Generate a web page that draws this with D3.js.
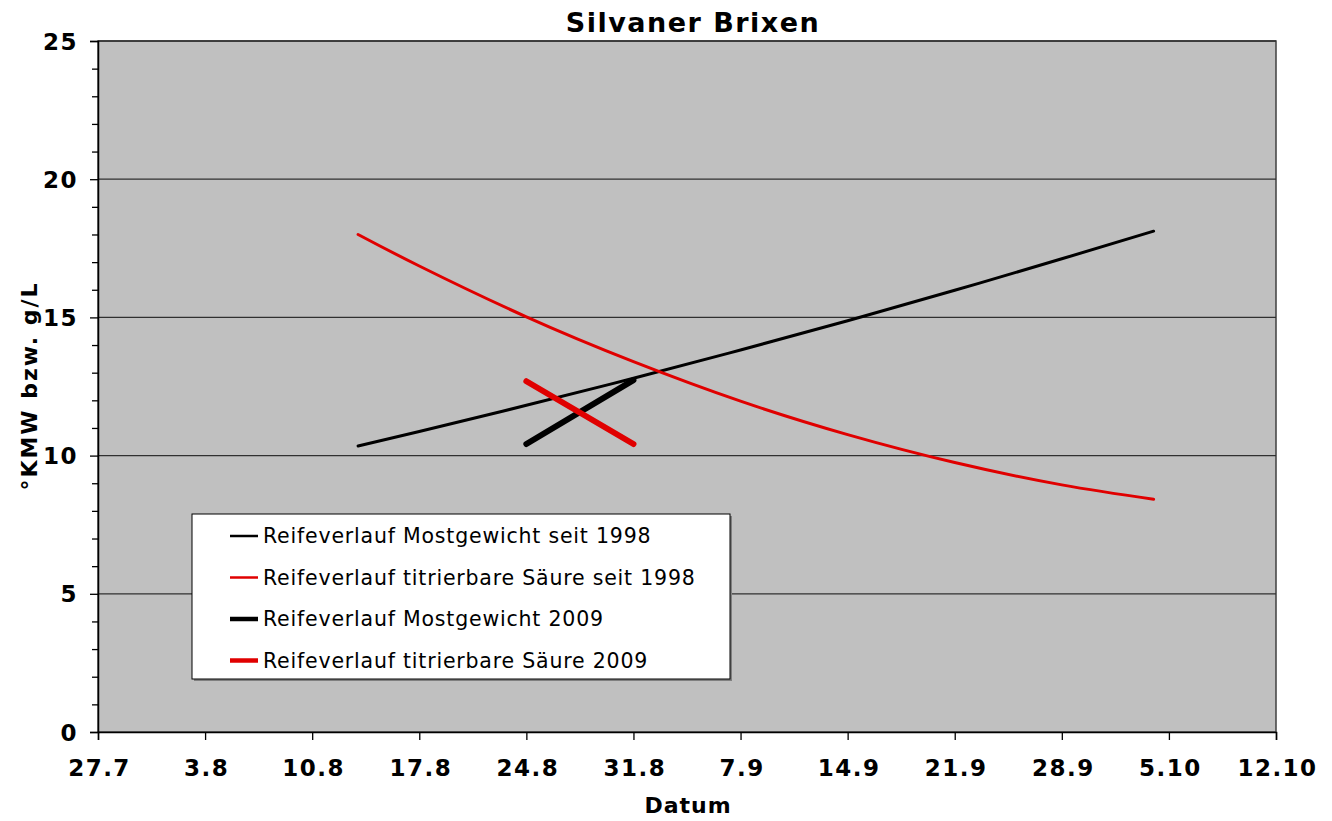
<!DOCTYPE html>
<html>
<head>
<meta charset="utf-8">
<script src="https://cdn.jsdelivr.net/npm/d3@7"></script>
<style>
  body { margin: 0; background: #fff; }
  text { font-family: "DejaVu Sans", Verdana, sans-serif; }
</style>
</head>
<body>
<div class="canvas"></div>
<script>
// tick labels on the date axis (day.month)
const xTickLabels = ['27.7', '3.8', '10.8', '17.8', '24.8', '31.8', '7.9', '14.9', '21.9', '28.9', '5.10', '12.10'];
const yTicks = [0, 5, 10, 15, 20, 25];

// long-term trend (seit 1998), read at weekly dates
const trendDates = ['13.8', '17.8', '24.8', '31.8', '7.9', '14.9', '21.9', '28.9', '4.10'];
const mostTrend = [10.35, 10.87, 11.82, 12.8, 13.82, 14.88, 15.98, 17.12, 18.12];
const saeureTrend = [18.0, 16.86, 15.02, 13.4, 11.97, 10.76, 9.75, 8.94, 8.42];

// 2009 measurements
const dates2009 = ['24.8', '31.8'];
const most2009 = [10.42, 12.73];
const saeure2009 = [12.69, 10.42];

const legendLabels = [
  'Reifeverlauf Mostgewicht seit 1998',
  'Reifeverlauf titrierbare Säure seit 1998',
  'Reifeverlauf Mostgewicht 2009',
  'Reifeverlauf titrierbare Säure 2009'
];

const parse = s => d3.timeParse('%d.%m.%Y')(s + '.2009');

const width = 1332;
const height = 821;
const margin = { top: 41, right: 56, bottom: 89, left: 98 };
const graphWidth = width - margin.left - margin.right;
const graphHeight = height - margin.top - margin.bottom;

const svg = d3.select('.canvas').append('svg')
  .attr('width', width)
  .attr('height', height);

const graph = svg.append('g')
  .attr('transform', `translate(${margin.left}, ${margin.top})`);

const x = d3.scaleTime()
  .domain([parse('27.7'), parse('12.10')])
  .range([0, graphWidth]);

const y = d3.scaleLinear()
  .domain([0, 25])
  .range([graphHeight, 0]);

// plot background
graph.append('rect')
  .attr('width', graphWidth)
  .attr('height', graphHeight)
  .attr('fill', '#c0c0c0')
  .attr('stroke', '#404040')
  .attr('stroke-width', 1.5);

// horizontal gridlines
graph.selectAll('.grid').data(yTicks.slice(1))
  .enter().append('line')
  .attr('x1', 0).attr('x2', graphWidth)
  .attr('y1', d => y(d)).attr('y2', d => y(d))
  .attr('stroke', '#303030')
  .attr('stroke-width', 1.3);

// axes
const yAxis = d3.axisLeft(y)
  .tickValues(yTicks)
  .tickSize(8)
  .tickPadding(12)
  .tickFormat(d3.format('d'));

const yMinor = d3.axisLeft(y)
  .tickValues(d3.range(0, 26).filter(v => v % 5 !== 0))
  .tickSize(6)
  .tickFormat('');

const xAxis = d3.axisBottom(x)
  .tickValues(xTickLabels.map(parse))
  .tickSize(8)
  .tickPadding(20)
  .tickFormat(d3.timeFormat('%-d.%-m'));

const yAxisGroup = graph.append('g').call(yAxis);
graph.append('g').call(yMinor);
const xAxisGroup = graph.append('g')
  .attr('transform', `translate(0, ${graphHeight})`)
  .call(xAxis);

[yAxisGroup, xAxisGroup].forEach(g => {
  g.select('.domain').attr('stroke', '#000').attr('stroke-width', 1.5);
  g.selectAll('text')
    .attr('font-size', 23)
    .attr('font-weight', 'bold')
    .attr('letter-spacing', 1.5)
    .attr('fill', '#000');
});
yAxisGroup.selectAll('text').attr('dy', '0.35em');
xAxisGroup.selectAll('text').attr('dx', 1);
graph.selectAll('.tick line').attr('stroke', '#000').attr('stroke-width', 1.3);

// lines
const line = d3.line()
  .x(d => x(d.date))
  .y(d => y(d.value))
  .curve(d3.curveNatural);

const toPoints = (dates, values) => dates.map((d, i) => ({ date: parse(d), value: values[i] }));

const series = [
  { points: toPoints(trendDates, mostTrend), color: '#000', width: 3 },
  { points: toPoints(trendDates, saeureTrend), color: '#e00000', width: 3 },
  { points: toPoints(dates2009, most2009), color: '#000', width: 6 },
  { points: toPoints(dates2009, saeure2009), color: '#e00000', width: 6 }
];

graph.selectAll('.series').data(series)
  .enter().append('path')
  .attr('d', d => line(d.points))
  .attr('fill', 'none')
  .attr('stroke', d => d.color)
  .attr('stroke-width', d => d.width)
  .attr('stroke-linecap', 'round');

// legend
const legend = svg.append('g').attr('transform', 'translate(192, 514)');
legend.append('rect')
  .attr('x', 2).attr('y', 2)
  .attr('width', 538).attr('height', 165)
  .attr('fill', '#808080');
legend.append('rect')
  .attr('width', 538).attr('height', 165)
  .attr('fill', '#fff')
  .attr('stroke', '#000')
  .attr('stroke-width', 1);

const items = legend.selectAll('.item').data(series)
  .enter().append('g')
  .attr('transform', (d, i) => `translate(0, ${22 + i * 41.5})`);

items.append('line')
  .attr('x1', 38).attr('x2', 66)
  .attr('stroke', d => d.color)
  .attr('stroke-width', d => d.width === 3 ? 2.5 : 4.5);

items.append('text')
  .attr('x', 71)
  .attr('dy', '0.35em')
  .attr('font-size', 20.5)
  .attr('letter-spacing', 0.8)
  .text((d, i) => legendLabels[i]);

// titles
svg.append('text')
  .attr('x', 693).attr('y', 32)
  .attr('text-anchor', 'middle')
  .attr('font-size', 27)
  .attr('font-weight', 'bold')
  .attr('letter-spacing', 1.5)
  .text('Silvaner Brixen');

svg.append('text')
  .attr('x', 688).attr('y', 813)
  .attr('text-anchor', 'middle')
  .attr('font-size', 22)
  .attr('font-weight', 'bold')
  .attr('letter-spacing', 1)
  .text('Datum');

svg.append('text')
  .attr('transform', 'translate(37, 386) rotate(-90)')
  .attr('text-anchor', 'middle')
  .attr('font-size', 22)
  .attr('font-weight', 'bold')
  .attr('letter-spacing', 2)
  .text('°KMW bzw. g/L');
</script>
</body>
</html>
